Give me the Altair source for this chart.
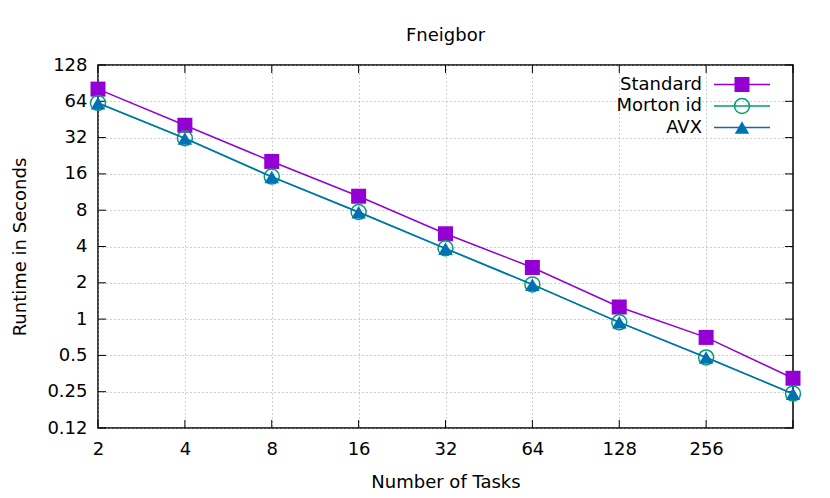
import altair as alt
import pandas as pd

tasks = [2, 4, 8, 16, 32, 64, 128, 256, 512]
standard = [80.8, 40.5, 20.3, 10.45, 5.1, 2.68, 1.26, 0.705, 0.323]
morton = [62.0, 31.6, 15.2, 7.73, 3.86, 1.94, 0.94, 0.481, 0.241]
avx = [61.8, 31.5, 15.1, 7.70, 3.84, 1.93, 0.94, 0.480, 0.240]

series_names = ["Standard", "Morton id", "AVX"]
series_values = [standard, morton, avx]
series_colors = ["#9400D3", "#009E73", "#0072B2"]
series_shapes = ["square", "circle", "triangle-up"]
series_filled = [True, False, True]

xtick_values = [2, 4, 8, 16, 32, 64, 128, 256]
ytick_values = [0.125, 0.25, 0.5, 1, 2, 4, 8, 16, 32, 64, 128]
ytick_labels = ["0.12", "0.25", "0.5", "1", "2", "4", "8", "16", "32", "64", "128"]

W, H = 695, 363
FONT = "DejaVu Sans"
FS = 18

ylabel_expr = " : ".join(
    [f"datum.value == {v} ? '{l}'" for v, l in zip(ytick_values, ytick_labels)] + ["''"]
)

xscale = alt.Scale(type="log", base=2, domain=[2, 512], nice=False)
yscale = alt.Scale(type="log", base=2, domain=[0.125, 128], nice=False)

xaxis = alt.Axis(
    title="Number of Tasks", values=xtick_values, format="d",
    grid=True, gridColor="#a0a0a0", gridDash=[1, 3], gridWidth=1,
    ticks=False, domain=False, labelFontSize=FS, labelFont=FONT, labelColor="black",
    labelPadding=12, labelFlush=False,
    titleFontSize=FS, titleFont=FONT, titleFontWeight="normal", titleColor="black",
    titleY=54, titleBaseline="middle",
)
yaxis = alt.Axis(
    title="Runtime in Seconds", values=ytick_values, labelExpr=ylabel_expr,
    grid=True, gridColor="#a0a0a0", gridDash=[1, 3], gridWidth=1,
    ticks=False, domain=False, labelFontSize=FS, labelFont=FONT, labelColor="black",
    labelPadding=11, labelFlush=False, labelBaseline="middle",
    titleFontSize=FS, titleFont=FONT, titleFontWeight="normal", titleColor="black",
    titleX=-78, titleY=H / 2, titleAngle=-90, titleBaseline="middle", titleAlign="center",
)

X = alt.X("tasks:Q", scale=xscale, axis=xaxis)
Y = alt.Y("runtime:Q", scale=yscale, axis=yaxis)

layers = []

# Inward tick marks (gnuplot style, mirrored)
xt_df = pd.DataFrame({"tasks": tasks})
yt_df = pd.DataFrame({"runtime": ytick_values})
for y0, y1 in [(H, H - 8), (0, 8)]:
    layers.append(
        alt.Chart(xt_df).mark_rule(color="black", strokeWidth=1).encode(
            x=X, y=alt.value(y0), y2=alt.value(y1),
        )
    )
for x0, x1 in [(0, 8), (W, W - 8)]:
    layers.append(
        alt.Chart(yt_df).mark_rule(color="black", strokeWidth=1).encode(
            y=Y, x=alt.value(x0), x2=alt.value(x1),
        )
    )

# Series
for name, vals, col, shp, filled in zip(series_names, series_values, series_colors,
                                         series_shapes, series_filled):
    df = pd.DataFrame({"tasks": tasks, "runtime": vals})
    base = alt.Chart(df).encode(x=X, y=Y)
    layers.append(base.mark_line(color=col, strokeWidth=1.5, clip=False))
    size = 225 if shp != "triangle-up" else 210
    layers.append(base.mark_point(shape=shp, filled=filled, color=col, size=size,
                                  strokeWidth=1.5, opacity=1, clip=False))

# Legend (gnuplot style: label, then line sample with marker)
legend_y = [19.5, 41, 62.5]
for i, (name, col, shp, filled) in enumerate(zip(series_names, series_colors,
                                                 series_shapes, series_filled)):
    ldf = pd.DataFrame({"label": [name]})
    lc = alt.Chart(ldf)
    layers.append(lc.mark_text(align="right", baseline="middle", font=FONT,
                               fontSize=FS, color="black").encode(
        text="label:N", x=alt.value(604), y=alt.value(legend_y[i])))
    layers.append(lc.mark_rule(color=col, strokeWidth=1.5).encode(
        x=alt.value(616), x2=alt.value(672), y=alt.value(legend_y[i])))
    size = 225 if shp != "triangle-up" else 210
    layers.append(lc.mark_point(shape=shp, filled=filled, color=col, size=size,
                                strokeWidth=1.5, opacity=1).encode(
        x=alt.value(644), y=alt.value(legend_y[i])))

chart = alt.layer(*layers).properties(
    width=W, height=H,
    title=alt.TitleParams("Fneigbor", font=FONT, fontSize=FS, fontWeight="normal",
                          color="black", anchor="middle", baseline="alphabetic", offset=-3),
    autosize=alt.AutoSizeParams(type="none"),
    padding={"left": 90, "top": 57, "right": 29, "bottom": 62},
).configure(font=FONT).configure_view(stroke="black", strokeWidth=1.5)

chart.save("out.html", embed_options={"renderer": "svg", "actions": False})
